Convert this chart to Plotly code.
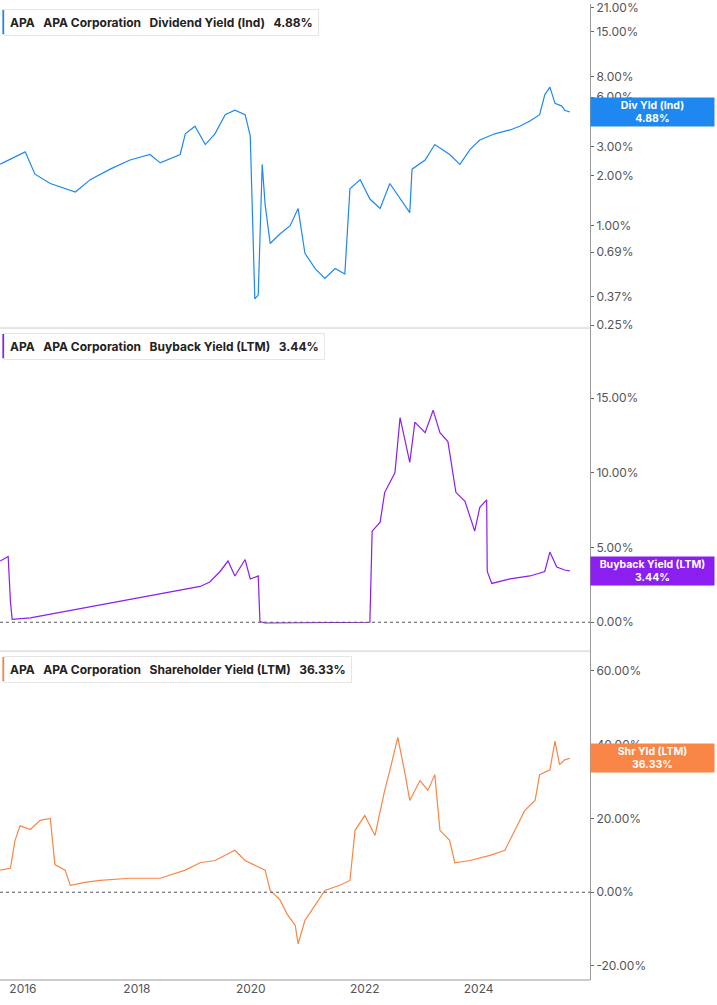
import plotly.graph_objects as go
import pandas as pd
import numpy as np

def to_dates(yrs):
    return [pd.Timestamp('2015-01-01') + pd.Timedelta(days=(y - 2015) * 365.25) for y in yrs]

# Dividend yield (%) - decimal year positions and values
div_x = [2015.60,2015.95,2016.04,2016.21,2016.48,2016.92,2017.18,2017.53,2017.88,2018.23,2018.41,2018.76,2018.85,2019.02,2019.20,2019.37,2019.55,2019.72,2019.90,2019.99,2020.07,2020.13,2020.20,2020.25,2020.34,2020.51,2020.69,2020.83,2020.95,2021.13,2021.30,2021.48,2021.65,2021.74,2021.92,2022.09,2022.27,2022.44,2022.62,2022.79,2022.83,2023.06,2023.23,2023.49,2023.67,2023.85,2024.02,2024.28,2024.55,2024.72,2024.90,2025.07,2025.16,2025.25,2025.34,2025.46,2025.51,2025.60]
div_v = [2.36,2.7,2.8,2.05,1.8,1.6,1.9,2.2,2.5,2.7,2.4,2.7,3.6,4.0,3.1,3.6,4.7,5.0,4.7,3.5,0.36,0.38,2.35,1.35,0.78,0.89,1.0,1.27,0.68,0.55,0.48,0.55,0.51,1.67,1.9,1.45,1.27,1.8,1.45,1.2,2.2,2.5,3.1,2.7,2.35,2.9,3.3,3.6,3.8,4.0,4.3,4.7,6.2,6.9,5.5,5.3,5.0,4.88]

# Buyback yield (%)
bb_x = [2015.60,2015.74,2015.78,2015.81,2016.13,2019.11,2019.28,2019.46,2019.60,2019.72,2019.90,2019.99,2020.13,2020.16,2020.25,2022.09,2022.13,2022.27,2022.35,2022.53,2022.62,2022.71,2022.79,2022.88,2023.06,2023.20,2023.32,2023.46,2023.60,2023.76,2023.93,2024.02,2024.14,2024.15,2024.23,2024.55,2024.90,2025.16,2025.25,2025.37,2025.51,2025.60]
bb_v = [4.1,4.4,1.4,0.2,0.3,2.4,2.7,3.4,4.1,3.1,4.2,2.9,3.1,0.05,-0.05,0.0,6.1,6.7,8.7,10.0,13.7,12.1,10.7,13.4,12.7,14.2,12.7,12.1,8.7,8.1,6.1,7.7,8.2,3.4,2.6,2.9,3.1,3.4,4.7,3.7,3.5,3.44]

# Shareholder yield (%)
sh_x = [2015.60,2015.78,2015.86,2015.95,2016.13,2016.30,2016.48,2016.56,2016.74,2016.83,2017.09,2017.35,2017.88,2018.41,2018.85,2019.11,2019.37,2019.55,2019.72,2019.90,2020.07,2020.25,2020.34,2020.51,2020.64,2020.78,2020.83,2020.95,2021.13,2021.30,2021.56,2021.74,2021.83,2022.00,2022.18,2022.35,2022.44,2022.58,2022.71,2022.79,2022.97,2023.11,2023.23,2023.32,2023.49,2023.58,2023.85,2024.20,2024.46,2024.64,2024.81,2024.99,2025.07,2025.25,2025.34,2025.42,2025.51,2025.60]
sh_v = [6.0,6.5,14.0,18.0,17.0,19.5,20.0,7.5,6.0,1.9,2.7,3.2,3.8,3.8,6.0,8.0,8.6,10.0,11.4,8.6,7.3,6.0,0.5,-2.0,-6.0,-9.0,-14.0,-7.6,-3.5,0.5,1.9,3.2,16.8,20.8,15.4,27.6,33.0,42.0,31.9,24.9,30.3,27.6,31.9,16.8,14.1,8.0,8.6,10.0,11.4,16.8,22.2,24.9,31.9,33.2,41.0,34.6,35.9,36.33]

x_ticks = ['2016-01-01','2018-01-01','2020-01-01','2022-01-01','2024-01-01']
x_tick_text = ['2016','2018','2020','2022','2024']

BLUE, PURPLE, ORANGE = '#1e88f0', '#8a1ff0', '#f98646'
GRAY = '#999999'
FONT = 'Inter'

fig = go.Figure()
fig.add_trace(go.Scatter(x=to_dates(div_x), y=div_v, mode='lines', line=dict(color=BLUE, width=1.2), xaxis='x', yaxis='y'))
fig.add_trace(go.Scatter(x=to_dates(bb_x), y=bb_v, mode='lines', line=dict(color=PURPLE, width=1.2), xaxis='x2', yaxis='y2'))
fig.add_trace(go.Scatter(x=to_dates(sh_x), y=sh_v, mode='lines', line=dict(color=ORANGE, width=1.2), xaxis='x3', yaxis='y3'))

xr = [pd.Timestamp('2015-08-07'), pd.Timestamp('2025-12-15')]
common_x = dict(range=xr, showgrid=False, zeroline=False, showline=False, tickvals=x_ticks, ticktext=x_tick_text)
yax = dict(side='right', showgrid=False, zeroline=False, showline=True, linecolor=GRAY, linewidth=1,
           ticks='outside', ticklen=3, tickcolor='#666', ticklabeloverflow='allow',
           tickfont=dict(family=FONT, size=12, color='#555'))

fig.update_layout(
    width=717, height=1005, margin=dict(l=0, r=127, t=0, b=25),
    plot_bgcolor='white', paper_bgcolor='white', showlegend=False,
    xaxis=dict(**common_x, anchor='y', showticklabels=False),
    xaxis2=dict(**common_x, anchor='y2', showticklabels=False, matches='x'),
    xaxis3=dict(**common_x, anchor='y3', matches='x', ticks='', tickfont=dict(family=FONT, size=12, color='#555')),
    yaxis=dict(**yax, type='log', domain=[0.668, 1], range=[np.log10(0.24), np.log10(22)],
               tickvals=[0.25,0.37,0.69,1,2,3,6,8,15,21],
               ticktext=['0.25%','0.37%','0.69%','1.00%','2.00%','3.00%','6.00%','8.00%','15.00%','21.00%']),
    yaxis2=dict(**yax, domain=[0.337, 0.668], range=[-1.93, 19.7], tickvals=[0,5,10,15],
                ticktext=['0.00%','5.00%','10.00%','15.00%']),
    yaxis3=dict(**yax, domain=[0, 0.337], range=[-23.8, 65.4], tickvals=[-20,0,20,40,60],
                ticktext=['-20.00%','0.00%','20.00%','40.00%','60.00%']),
)

for yy in [0.668, 0.337]:
    fig.add_shape(type='line', xref='paper', yref='paper', x0=0, x1=1, y0=yy, y1=yy, line=dict(color='#cccccc', width=1))
fig.add_shape(type='line', xref='paper', yref='paper', x0=0, x1=1, y0=0, y1=0, line=dict(color=GRAY, width=1))
for ax in ['y2', 'y3']:
    fig.add_shape(type='line', xref='paper', yref=ax, x0=0, x1=1, y0=0, y1=0, line=dict(color='#555', width=1, dash='dot'))

heads = [
    (1.0, BLUE, 'APA   APA Corporation   Dividend Yield (Ind)   4.88%'),
    (0.668, PURPLE, 'APA   APA Corporation   Buyback Yield (LTM)   3.44%'),
    (0.337, ORANGE, 'APA   APA Corporation   Shareholder Yield (LTM)   36.33%'),
]
for y0, c, t in heads:
    fig.add_annotation(xref='paper', yref='paper', x=0.006, y=y0 - 0.005, xanchor='left', yanchor='top',
                       text='<b>' + t.replace('   ', '&nbsp;&nbsp;&nbsp;') + '</b>', showarrow=False,
                       font=dict(family=FONT, size=12, color='#222'), bgcolor='white',
                       bordercolor='#e6e6e6', borderwidth=1, borderpad=5)
    fig.add_shape(type='rect', xref='paper', yref='paper', x0=0.004, x1=0.011, y0=y0 - 0.031, y1=y0 - 0.006,
                  fillcolor=c, line=dict(width=0))

labels = [('y', np.log10(4.88), BLUE, 'Div Yld (Ind)<br>4.88%'),
          ('y2', 3.44, PURPLE, 'Buyback Yield (LTM)<br>3.44%'),
          ('y3', 36.33, ORANGE, 'Shr Yld (LTM)<br>36.33%')]
for ax, yv, c, t in labels:
    fig.add_annotation(xref='paper', yref=ax, x=1, y=yv, xanchor='left', yanchor='middle', text='<b>' + t + '</b>',
                       showarrow=False, bgcolor=c, font=dict(family=FONT, size=10.5, color='white'),
                       width=121, height=26, borderpad=1, align='center')

fig.write_html('out.html', config={'displayModeBar': False},
               post_script="document.body.style.margin='0';document.body.style.overflow='hidden';")
